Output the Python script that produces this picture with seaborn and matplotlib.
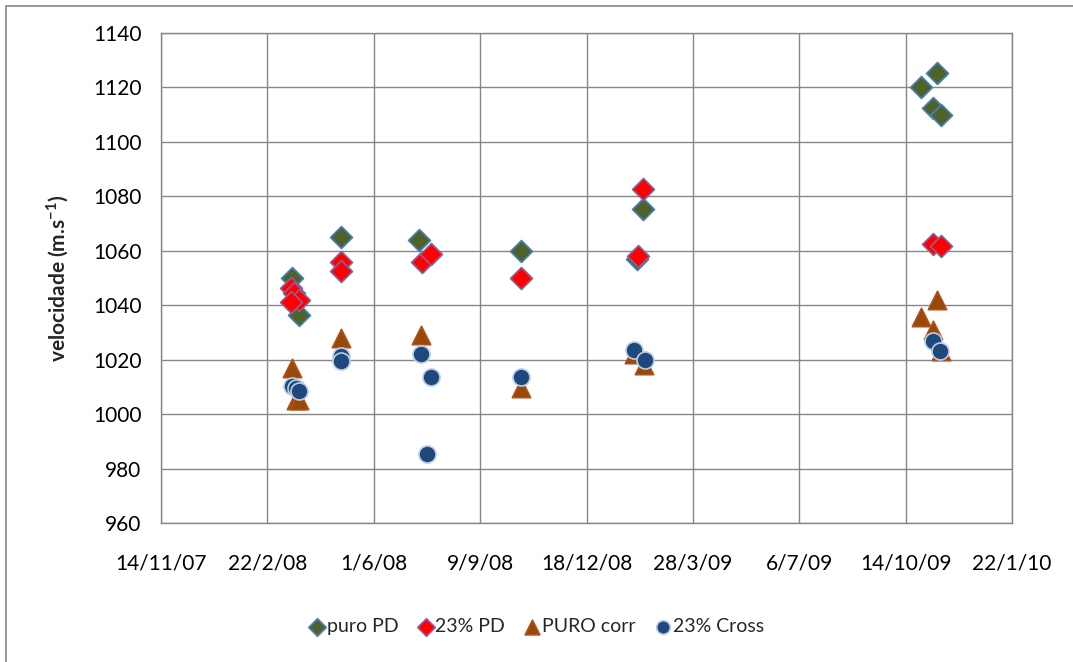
import pandas as pd
import matplotlib.pyplot as plt
import matplotlib.dates as mdates
import matplotlib.patches as patches
from matplotlib.ticker import FuncFormatter
import seaborn as sns

# Dados
puro_pd_datas = ['2008-03-16', '2008-03-23', '2008-05-01', '2008-07-14', '2008-10-17',
                 '2009-02-03', '2009-02-09', '2009-10-28', '2009-11-12', '2009-11-09', '2009-11-16']
puro_pd_vel = [1050, 1036.5, 1065, 1064, 1060, 1056.8, 1075.5, 1120.3, 1125.3, 1112.5, 1109.8]

pd23_datas = ['2008-03-15', '2008-03-18', '2008-03-23', '2008-03-15', '2008-05-01', '2008-05-01',
              '2008-07-16', '2008-07-25', '2008-10-17', '2009-02-04', '2009-02-09',
              '2009-11-09', '2009-11-16']
pd23_vel = [1046.5, 1044.5, 1042, 1041, 1056, 1052.5, 1056, 1058.8, 1050, 1058, 1082.7, 1062.5, 1061.7]

puro_corr_datas = ['2008-03-16', '2008-03-20', '2008-03-23', '2008-05-01', '2008-07-15', '2008-10-17',
                   '2009-02-01', '2009-02-10', '2009-10-28', '2009-11-12', '2009-11-09', '2009-11-16']
puro_corr_vel = [1017, 1005, 1005, 1028, 1029, 1009.5, 1022, 1018, 1035.5, 1042, 1031, 1023]

cross23_datas = ['2008-03-16', '2008-03-20', '2008-03-23', '2008-05-01', '2008-05-01', '2008-07-15',
                 '2008-07-25', '2008-07-21', '2008-10-17', '2009-02-01', '2009-02-11',
                 '2009-11-09', '2009-11-15']
cross23_vel = [1010.5, 1009.5, 1008.3, 1021.5, 1019.5, 1022, 1013.5, 985.5, 1013.5, 1023.5, 1020, 1027, 1023]

series = [
    ('puro PD', puro_pd_datas, puro_pd_vel, 'D', '#4F6228', '#4A7EBB', 125),
    ('23% PD', pd23_datas, pd23_vel, 'D', '#FF0000', '#8064A2', 125),
    ('PURO corr', puro_corr_datas, puro_corr_vel, '^', '#984807', '#B0501A', 175),
    ('23% Cross', cross23_datas, cross23_vel, 'o', '#1F497D', '#B9CDE5', 150),
]

sns.set_theme(style='white')
plt.rcParams['font.family'] = ['Lato', 'DejaVu Sans']

fig = plt.figure(figsize=(10.73, 6.62), dpi=100)
ax = fig.add_axes([0.150, 0.210, 0.7932, 0.7402])

for nome, datas, vel, marcador, cor, borda, tamanho in series:
    df = pd.DataFrame({'data': pd.to_datetime(datas), 'vel': vel})
    sns.scatterplot(data=df, x='data', y='vel', ax=ax, marker=marcador, color=cor,
                    edgecolor=borda, linewidth=1.2, s=tamanho, label=nome, zorder=3)

# Eixo x: datas de 100 em 100 dias
inicio = pd.Timestamp('2007-11-14')
ticks_x = [inicio + pd.Timedelta(days=100 * i) for i in range(9)]
ax.set_xlim(mdates.date2num(ticks_x[0]), mdates.date2num(ticks_x[-1]))
ax.set_xticks([mdates.date2num(t) for t in ticks_x])
ax.xaxis.set_major_formatter(FuncFormatter(
    lambda v, p: '{d.day}/{d.month}/{y}'.format(d=mdates.num2date(v), y=mdates.num2date(v).strftime('%y'))))

ax.set_ylim(960, 1140)
ax.set_yticks(range(960, 1141, 20))

ax.grid(True, color='#868686', linewidth=1)
for s in ax.spines.values():
    s.set_color('#868686')
    s.set_linewidth(1)
ax.tick_params(axis='both', direction='out', length=6, width=1, color='#868686',
               labelsize=15, labelcolor='black', pad=8)
ax.tick_params(axis='x', pad=16)
ax.set_xlabel('')
ax.set_ylabel(r'velocidade (m.s$^{\mathregular{-1}}$)', fontsize=15, fontweight='bold', labelpad=16)

ax.get_legend().remove()
handles, labels = ax.get_legend_handles_labels()
fig.legend(handles, labels, loc='center', bbox_to_anchor=(0.5, 0.053), ncol=4, frameon=False,
           fontsize=14, handlelength=0.8, handletextpad=0.1, columnspacing=1.0, markerscale=0.8)

# Moldura do gráfico
fig.patches.append(patches.Rectangle((6 / 1073, -0.05), 1.1, 1.05 - 6 / 662,
                                     transform=fig.transFigure, fill=False,
                                     edgecolor='#868686', linewidth=1.2))

plt.savefig('out.png', dpi=100)
plt.close()
